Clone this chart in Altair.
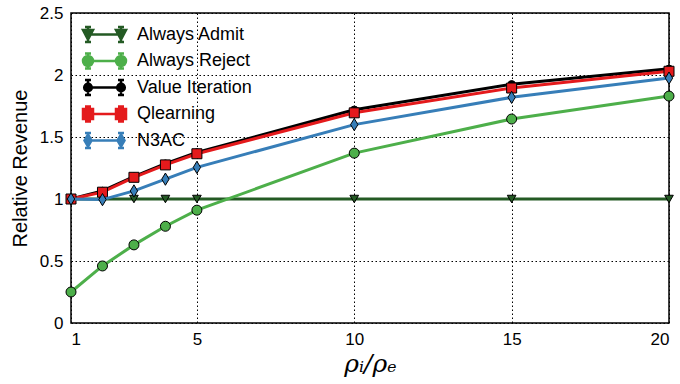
import altair as alt
import pandas as pd

# ---- data ----
x_vals = [1, 2, 3, 4, 5, 10, 15, 20]
always_admit = [1.0, 1.0, 1.0, 1.0, 1.0, 1.0, 1.0, 1.0]
always_reject = [0.25, 0.46, 0.63, 0.78, 0.91, 1.37, 1.645, 1.83]
value_iteration = [1.0, 1.065, 1.18, 1.285, 1.375, 1.72, 1.925, 2.05]
qlearning = [1.0, 1.055, 1.175, 1.275, 1.365, 1.695, 1.895, 2.03]
n3ac = [1.0, 0.995, 1.065, 1.16, 1.255, 1.60, 1.82, 1.975]

series_names = ["Always Admit", "Always Reject", "Value Iteration", "Qlearning", "N3AC"]
series_values = [always_admit, always_reject, value_iteration, qlearning, n3ac]
series_colors = ["#245a24", "#4daf4a", "#000000", "#e41a1c", "#377eb8"]
x_ticks = [1, 5, 10, 15, 20]
y_ticks = [0, 0.5, 1, 1.5, 2, 2.5]

rows = []
for name, vals in zip(series_names, series_values):
    for xv, yv in zip(x_vals, vals):
        rows.append({"series": name, "x": xv, "y": yv})
df = pd.DataFrame(rows)

# ---- styles ----
marker_shapes = [
    "triangle-down",
    "circle",
    "circle",
    "square",
    "M0,-1L0.6,0L0,1L-0.6,0Z",
]
marker_sizes = [75, 100, 55, 100, 150]


def legend_path(kind):
    parts = ["M-1.65,0H1.65"]
    for cx in (-1.65, 1.65):
        parts.append(f"M{cx},-0.75V0.75M{cx-0.3},-0.75H{cx+0.3}M{cx-0.3},0.75H{cx+0.3}")
        if kind == "tri":
            parts.append(f"M{cx-0.5},-0.45L{cx+0.5},-0.45L{cx},0.5Z")
        elif kind == "circ":
            parts.append(f"M{cx-0.5},0A0.5,0.5 0 1,0 {cx+0.5},0A0.5,0.5 0 1,0 {cx-0.5},0Z")
        elif kind == "dot":
            parts.append(f"M{cx-0.38},0A0.38,0.38 0 1,0 {cx+0.38},0A0.38,0.38 0 1,0 {cx-0.38},0Z")
        elif kind == "sq":
            parts.append(f"M{cx-0.5},-0.5H{cx+0.5}V0.5H{cx-0.5}Z")
        elif kind == "dia":
            parts.append(f"M{cx},-0.6L{cx+0.35},0L{cx},0.6L{cx-0.35},0Z")
    return "".join(parts)


legend_shapes = [legend_path(k) for k in ["tri", "circ", "dot", "sq", "dia"]]

FONT = "Liberation Sans"
xs = alt.Scale(domain=[1, 20], nice=False, zero=False)
ys = alt.Scale(domain=[0, 2.5], nice=False, zero=False)
cs = alt.Scale(domain=series_names, range=series_colors)

x_enc = alt.X(
    "x:Q",
    scale=xs,
    axis=alt.Axis(
        values=x_ticks,
        grid=True,
        gridColor="black",
        gridDash=[1.5, 2.5],
        gridWidth=1,
        ticks=False,
        domain=False,
        labelFont=FONT,
        labelFontSize=17,
        labelColor="black",
        labelPadding=8,
        title="ρᵢ/ρₑ",
        titleFont="DejaVu Serif",
        titleFontStyle="italic",
        titleFontWeight="normal",
        titleFontSize=25,
        titleColor="black",
        titlePadding=4,
    ),
)
y_enc = alt.Y(
    "y:Q",
    scale=ys,
    axis=alt.Axis(
        values=y_ticks,
        format="~g",
        grid=True,
        gridColor="black",
        gridDash=[1.5, 2.5],
        gridWidth=1,
        ticks=False,
        domain=False,
        labelFont=FONT,
        labelFontSize=17,
        labelColor="black",
        labelPadding=8,
        title="Relative Revenue",
        titleFont=FONT,
        titleFontWeight="normal",
        titleFontSize=20,
        titleColor="black",
        titlePadding=9,
    ),
)

layers = []
for name, shp, sz in zip(series_names, marker_shapes, marker_sizes):
    base = alt.Chart(df).transform_filter(alt.datum.series == name)
    layers.append(
        base.mark_line(strokeWidth=3).encode(
            x=x_enc, y=y_enc, color=alt.Color("series:N", scale=cs, legend=None)
        )
    )
    layers.append(
        base.mark_point(filled=True, shape=shp, size=sz, stroke="black", strokeWidth=1, opacity=1).encode(
            x=x_enc, y=y_enc, color=alt.Color("series:N", scale=cs, legend=None)
        )
    )

leg = alt.Legend(
    title=None,
    orient="none",
    legendX=22,
    legendY=10,
    symbolSize=400,
    symbolStrokeWidth=2.5,
    symbolOpacity=1,
    labelFont=FONT,
    labelFontSize=18,
    labelColor="black",
    labelOffset=21,
    rowPadding=1.5,
    padding=0,
)
legend_scale = alt.Scale(domain=series_names, range=series_colors)
legend_layer = (
    alt.Chart(df)
    .mark_point(opacity=0)
    .encode(
        x=x_enc,
        y=y_enc,
        fill=alt.Fill("series:N", scale=legend_scale, legend=leg),
        stroke=alt.Stroke("series:N", scale=legend_scale, legend=leg),
        shape=alt.Shape("series:N", scale=alt.Scale(domain=series_names, range=legend_shapes), legend=leg),
    )
)
layers.insert(0, legend_layer)

chart = (
    alt.layer(*layers)
    .properties(
        width=598,
        height=310,
        padding={"left": 71, "top": 13, "right": 11, "bottom": 61},
        autosize=alt.AutoSizeParams(type="none"),
        background="white",
    )
    .configure_view(stroke="black", strokeWidth=1.5)
)

chart.save("out.html", embed_options={"renderer": "svg", "actions": False})
